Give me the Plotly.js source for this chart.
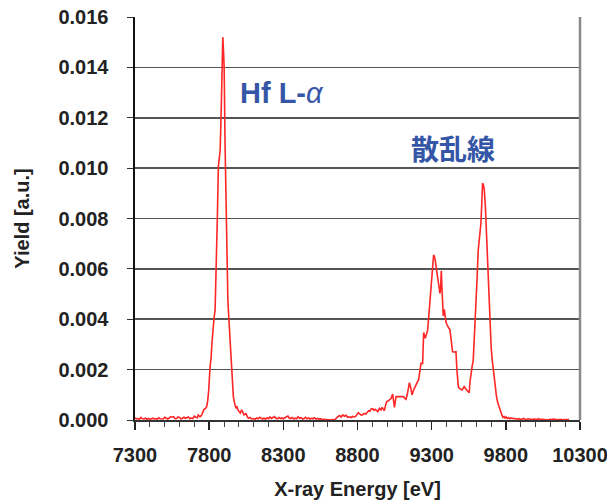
<!DOCTYPE html>
<html>
<head>
<meta charset="utf-8">
<script src="https://cdn.plot.ly/plotly-3.0.1.min.js"></script>
<style>
html,body{margin:0;padding:0;background:#fff;}
#chart{width:607px;height:500px;}
</style>
</head>
<body>
<div id="chart"></div>
<script>
// X-ray energy [eV]
const energy = [
7300,7310,7320,7330,7340,7350,7360,7370,7380,7390,7400,7410,7420,7430,7440,7450,7460,7470,7480,7490,
7500,7510,7520,7530,7540,7550,7560,7570,7580,7590,7600,7610,7620,7630,7640,7650,7660,7670,7680,7690,
7700,7710,7720,7726,7738,7748,7756,7765,7775,7783,7790,7797,7806,7813,7818,7824,7832,7840,7848,7855,
7862,7868,7874,7880,7886,7892,7897,7901,7907,7914,7920,7926,7931,7936,7944,7952,7958,7963,7970,7976,
7981,7986,7990,7996,8003,8010,8019,8027,8035,8042,8048,8055,8064,8075,8086,8100,8110,8120,8130,8140,
8150,8160,8170,8180,8190,8200,8210,8220,8230,8240,8250,8260,8270,8280,8290,8300,8310,8320,8331,8340,
8350,8360,8370,8380,8390,8400,8410,8420,8430,8440,8450,8460,8470,8480,8490,8500,8510,8520,8530,8540,
8550,8560,8570,8580,8590,8600,8610,8620,8630,8645,8655,8667,8680,8690,8701,8712,8723,8734,8746,8757,
8768,8780,8790,8799,8806,8815,8825,8835,8845,8855,8865,8876,8884,8892,8903,8912,8920,8929,8937,8948,
8958,8966,8975,8981,8990,8997,9006,9015,9027,9037,9043,9049,9055,9060,9075,9090,9100,9109,9118,9127,
9135,9142,9150,9158,9168,9176,9186,9195,9203,9212,9220,9228,9239,9246,9252,9257,9265,9273,9284,9292,
9300,9307,9313,9318,9324,9332,9340,9348,9356,9360,9365,9369,9374,9378,9385,9390,9396,9402,9407,9415,
9423,9432,9441,9452,9464,9470,9475,9480,9486,9495,9504,9512,9520,9527,9535,9544,9553,9558,9565,9572,
9580,9590,9598,9606,9614,9622,9632,9638,9643,9648,9654,9662,9670,9679,9688,9695,9701,9708,9715,9721,
9730,9737,9745,9755,9764,9773,9781,9788,9795,9802,9810,9818,9826,9834,9842,9850,9860,9870,9880,9890,
9900,9910,9920,9930,9940,9950,9960,9970,9980,9990,10000,10010,10020,10030,10040,10050,10060,10070,10080,10090,
10100,10110,10120,10130,10140,10150,10160,10170,10180,10190,10200,10210,10220,10226
];
// Yield [a.u.]
const yieldVals = [
0.00008,0.00004,0.00006,0.00003,0.00010,0.00005,0.00004,0.00007,0.00003,0.00006,0.00002,0.00005,0.00007,0.00004,0.00006,0.00003,0.00009,0.00005,0.00006,0.00004,
0.00011,0.00006,0.00004,0.00008,0.00013,0.00012,0.00013,0.00005,0.00006,0.00012,0.00010,0.00004,0.00006,0.00011,0.00007,0.00009,0.00012,0.00005,0.00008,0.00006,
0.00015,0.00011,0.00009,0.00020,0.00013,0.00018,0.00030,0.00042,0.00045,0.00053,0.00075,0.00119,0.00212,0.00245,0.00300,0.00350,0.00400,0.00437,0.00600,0.00800,
0.01006,0.01030,0.01070,0.01200,0.01400,0.01520,0.01460,0.01400,0.01100,0.00807,0.00620,0.00476,0.00420,0.00370,0.00260,0.00172,0.00120,0.00093,0.00070,0.00050,
0.00046,0.00055,0.00047,0.00038,0.00033,0.00028,0.00040,0.00025,0.00020,0.00022,0.00027,0.00015,0.00007,0.00010,0.00004,0.00006,0.00003,0.00008,0.00005,0.00011,
0.00006,0.00004,0.00007,0.00003,0.00009,0.00005,0.00012,0.00006,0.00010,0.00014,0.00007,0.00005,0.00010,0.00006,0.00008,0.00005,0.00009,0.00011,0.00016,0.00008,
0.00006,0.00010,0.00004,0.00007,0.00005,0.00013,0.00007,0.00009,0.00004,0.00006,0.00011,0.00005,0.00008,0.00004,0.00007,0.00005,0.00009,0.00004,0.00006,0.00003,
0.00005,0.00002,0.00004,0.00003,0.00001,0.00002,0.00001,0.00000,0.00002,0.00000,0.00008,0.00013,0.00018,0.00012,0.00020,0.00015,0.00019,0.00011,0.00013,0.00010,
0.00014,0.00012,0.00016,0.00021,0.00029,0.00024,0.00019,0.00021,0.00026,0.00024,0.00030,0.00037,0.00035,0.00044,0.00045,0.00038,0.00042,0.00036,0.00033,0.00046,
0.00040,0.00050,0.00043,0.00037,0.00060,0.00073,0.00075,0.00080,0.00086,0.00103,0.00080,0.00050,0.00075,0.00093,0.00093,0.00093,0.00092,0.00093,0.00087,0.00082,
0.00100,0.00120,0.00148,0.00130,0.00100,0.00115,0.00130,0.00146,0.00150,0.00159,0.00190,0.00225,0.00225,0.00347,0.00335,0.00324,0.00340,0.00357,0.00437,0.00500,
0.00556,0.00610,0.00655,0.00650,0.00635,0.00600,0.00569,0.00540,0.00503,0.00520,0.00592,0.00529,0.00470,0.00413,0.00439,0.00410,0.00390,0.00380,0.00373,0.00365,
0.00360,0.00320,0.00271,0.00270,0.00271,0.00200,0.00146,0.00132,0.00126,0.00122,0.00119,0.00125,0.00135,0.00125,0.00119,0.00112,0.00108,0.00150,0.00192,0.00210,
0.00235,0.00340,0.00437,0.00560,0.00675,0.00720,0.00781,0.00860,0.00940,0.00935,0.00920,0.00850,0.00730,0.00620,0.00490,0.00380,0.00290,0.00240,0.00200,0.00159,
0.00125,0.00093,0.00070,0.00050,0.00030,0.00020,0.00010,0.00014,0.00008,0.00012,0.00006,0.00009,0.00005,0.00008,0.00006,0.00007,0.00004,0.00006,0.00003,0.00005,
0.00002,0.00004,0.00006,0.00003,0.00002,0.00005,0.00003,0.00001,0.00002,0.00004,0.00003,0.00002,0.00005,0.00002,0.00003,0.00004,0.00002,0.00001,0.00003,0.00002,
0.00003,0.00002,0.00004,0.00002,0.00003,0.00001,0.00002,0.00003,0.00001,0.00002,0.00001,0.00002,0.00001,0.00003
];
const xTickVals = [7300, 7800, 8300, 8800, 9300, 9800, 10300];
const yTickVals = [0, 0.002, 0.004, 0.006, 0.008, 0.010, 0.012, 0.014, 0.016];
const labelPeak = '<b>Hf L-</b><i>α</i>';
const labelScatter = '<b>散乱線</b>';

const FONT = 'Arial, "Liberation Sans", sans-serif';
const trace = {
  x: energy, y: yieldVals, type: 'scatter', mode: 'lines',
  line: {color: '#ff2626', width: 1.6},
  hoverinfo: 'skip'
};
const layout = {
  width: 607, height: 500,
  margin: {l: 135, r: 27, t: 17, b: 80},
  paper_bgcolor: '#fff', plot_bgcolor: '#fff',
  showlegend: false,
  font: {family: FONT, color: '#222'},
  xaxis: {
    range: [7300, 10300],
    tickvals: xTickVals,
    ticktext: xTickVals.map(String),
    ticks: 'outside', ticklen: 8, tickwidth: 1.5, tickcolor: '#222',
    minor: {dtick: 100, tick0: 7300, ticks: 'outside', ticklen: 5, tickwidth: 1, tickcolor: '#444', showgrid: false},
    ticklabelstandoff: 8,
    ticklabeloverflow: 'allow',
    tickfont: {family: FONT, size: 20, color: '#222', weight: 'bold'},
    showgrid: false, zeroline: false,
    showline: true, linecolor: '#333', linewidth: 2,
    title: {text: '<b>X-ray Energy [eV]</b>', font: {family: FONT, size: 20, color: '#222'}, standoff: 18}
  },
  yaxis: {
    range: [0, 0.016],
    tickvals: yTickVals,
    tickformat: '.3f',
    ticks: 'outside', ticklen: 6, tickwidth: 1, tickcolor: '#333',
    ticklabelstandoff: 14,
    tickfont: {family: FONT, size: 20, color: '#222', weight: 'bold'},
    showgrid: true, gridcolor: '#555', gridwidth: 1.6,
    zeroline: false,
    showline: true, linecolor: '#111', linewidth: 2.5,
    title: {text: '<b>Yield [a.u.]</b>', font: {family: FONT, size: 20, color: '#222'}, standoff: 24}
  },
  shapes: [
    {type: 'line', xref: 'paper', yref: 'paper', x0: 1, x1: 1, y0: 0, y1: 1, line: {color: '#8a8a8a', width: 2.5}}
  ],
  annotations: [
    {x: 7995, y: 0.0130, xref: 'x', yref: 'y', xanchor: 'left', yanchor: 'middle', showarrow: false,
     text: labelPeak, font: {family: FONT, size: 29, color: '#3556a6'}},
    {x: 9148, y: 0.0108, xref: 'x', yref: 'y', xanchor: 'left', yanchor: 'middle', showarrow: false,
     text: labelScatter, font: {family: '"Noto Sans CJK JP", sans-serif', size: 28, color: '#3556a6'}}
  ]
};
Plotly.newPlot('chart', [trace], layout, {displayModeBar: false, staticPlot: true});
</script>
</body>
</html>
